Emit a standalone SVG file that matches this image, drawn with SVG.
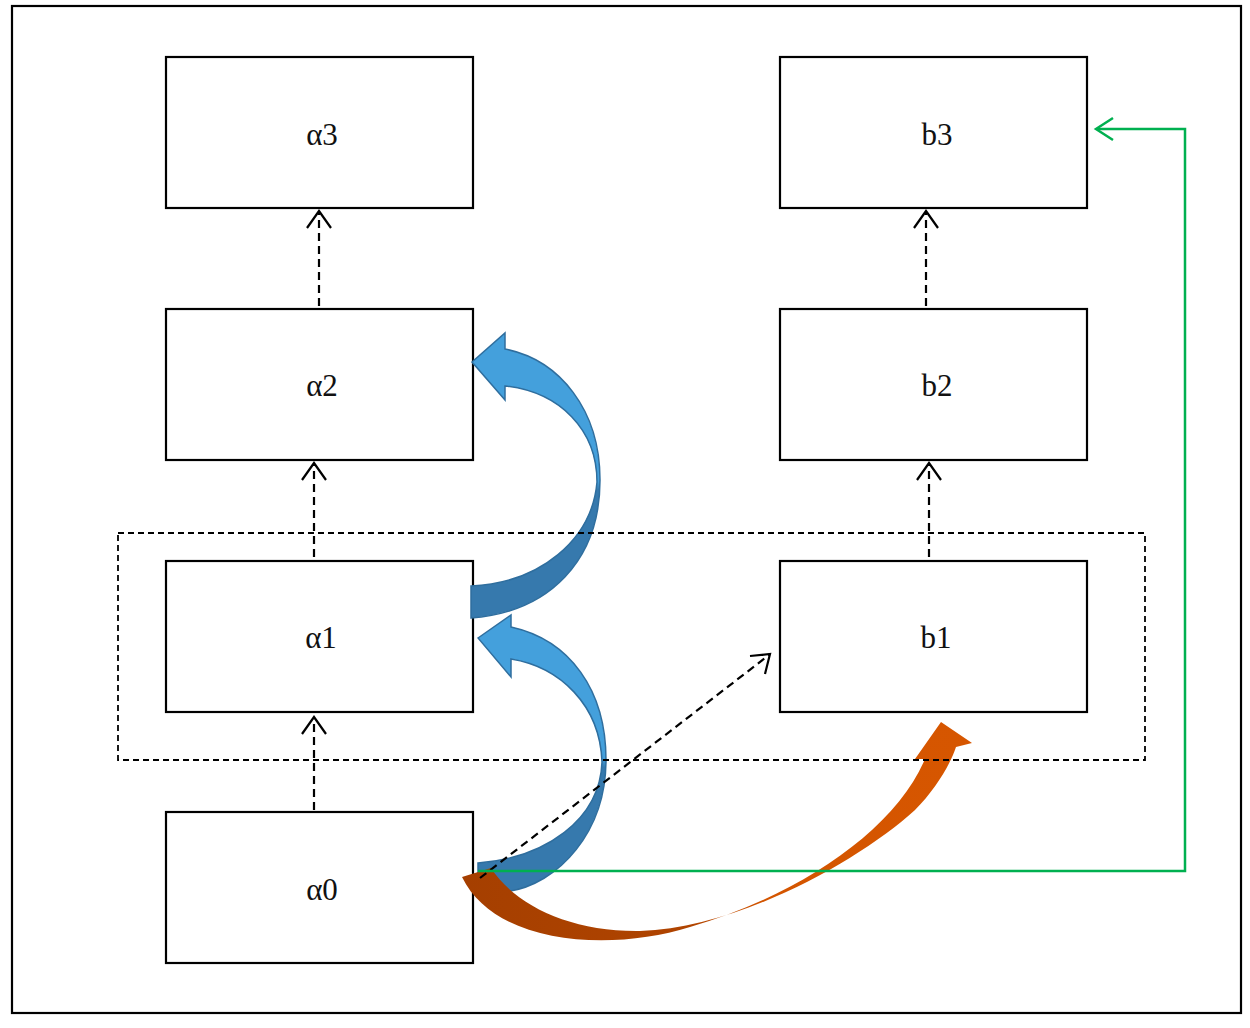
<svg xmlns="http://www.w3.org/2000/svg" width="1250" height="1028" viewBox="0 0 1250 1028">
<style>
.box{fill:#fff;stroke:#000;stroke-width:2.2}
.lbl{font-family:"Liberation Serif","DejaVu Serif",serif;font-size:31px;fill:#111;text-anchor:middle}
.dash{fill:none;stroke:#000;stroke-width:2.2;stroke-dasharray:8 5}
.head{fill:none;stroke:#000;stroke-width:2.2}
.grp{fill:none;stroke:#000;stroke-width:1.8;stroke-dasharray:6 4}
.green{fill:none;stroke:#00B050;stroke-width:2.5}
</style>
<defs>
<linearGradient id="blueG" x1="0" y1="0" x2="0" y2="1">
<stop offset="0" stop-color="#44A0DC"/>
<stop offset="0.52" stop-color="#44A0DC"/>
<stop offset="0.55" stop-color="#3679AD"/>
<stop offset="1" stop-color="#3679AD"/>
</linearGradient>
<linearGradient id="orG" x1="0" y1="0" x2="1" y2="0">
<stop offset="0" stop-color="#A53F00"/>
<stop offset="0.45" stop-color="#B04400"/>
<stop offset="0.6" stop-color="#D45500"/>
<stop offset="1" stop-color="#D65600"/>
</linearGradient>
</defs>
<rect x="0" y="0" width="1250" height="1028" fill="#fff"/>
<rect x="12" y="6" width="1229" height="1007" fill="none" stroke="#000" stroke-width="2.2"/>

<g id="a3"><rect class="box" x="166" y="57" width="307" height="151"/><text class="lbl" x="322" y="145">α3</text></g>
<g id="a2"><rect class="box" x="166" y="309" width="307" height="151"/><text class="lbl" x="322" y="396">α2</text></g>
<g id="a1"><rect class="box" x="166" y="561" width="307" height="151"/><text class="lbl" x="321" y="648">α1</text></g>
<g id="a0"><rect class="box" x="166" y="812" width="307" height="151"/><text class="lbl" x="322" y="900">α0</text></g>
<g id="b3"><rect class="box" x="780" y="57" width="307" height="151"/><text class="lbl" x="937" y="145">b3</text></g>
<g id="b2"><rect class="box" x="780" y="309" width="307" height="151"/><text class="lbl" x="937" y="396">b2</text></g>
<g id="b1"><rect class="box" x="780" y="561" width="307" height="151"/><text class="lbl" x="936" y="648">b1</text></g>

<g id="connectors">
<path id="blue-a1-a2" fill="url(#blueG)" stroke="#2F6E9E" stroke-width="1.5" d="M472,362 L505,333 L505,349 C560,360 600,410 600,480 C600,560 550,612 471,618 L471,586 C540,583 592,540 597,482 C597,430 560,392 505,386 L505,400 Z"/>
<path id="blue-a0-a1" fill="url(#blueG)" stroke="#2F6E9E" stroke-width="1.5" d="M478,638 L511,615 L511,627 C570,640 606,690 606,760 C606,830 560,885 505,892 L478,880 L478,863 C545,858 600,820 602,762 C600,705 560,667 511,659 L511,677 Z"/>
<path id="orange-a0-b1" fill="url(#orG)" d="M491,868 C515,905 570,932 640,931 C740,928 860,860 915,810 C935,790 950,765 956,747 L972,743 L941,722 L915,759 L925,759 C895,830 800,895 690,927 C610,952 495,945 462,877 Z"/>

<rect class="grp" x="118" y="533" width="1027" height="227"/>

<line class="dash" x1="319" y1="306" x2="319" y2="212"/>
<polyline class="head" points="307,228 319,211 331,228"/>
<line class="dash" x1="314" y1="557" x2="314" y2="464"/>
<polyline class="head" points="302,480 314,463 326,480"/>
<line class="dash" x1="314" y1="810" x2="314" y2="718"/>
<polyline class="head" points="302,734 314,717 326,734"/>
<line class="dash" x1="926" y1="306" x2="926" y2="212"/>
<polyline class="head" points="914,228 926,211 938,228"/>
<line class="dash" x1="929" y1="557" x2="929" y2="464"/>
<polyline class="head" points="917,480 929,463 941,480"/>
<line class="dash" x1="480" y1="878" x2="769" y2="655"/>
<polyline class="head" points="750,656 770,654 765,674"/>

<polyline class="green" points="478,871 1185,871 1185,129 1097,129"/>
<polyline class="green" points="1113,118 1096,129 1113,140"/>
</g>
</svg>
